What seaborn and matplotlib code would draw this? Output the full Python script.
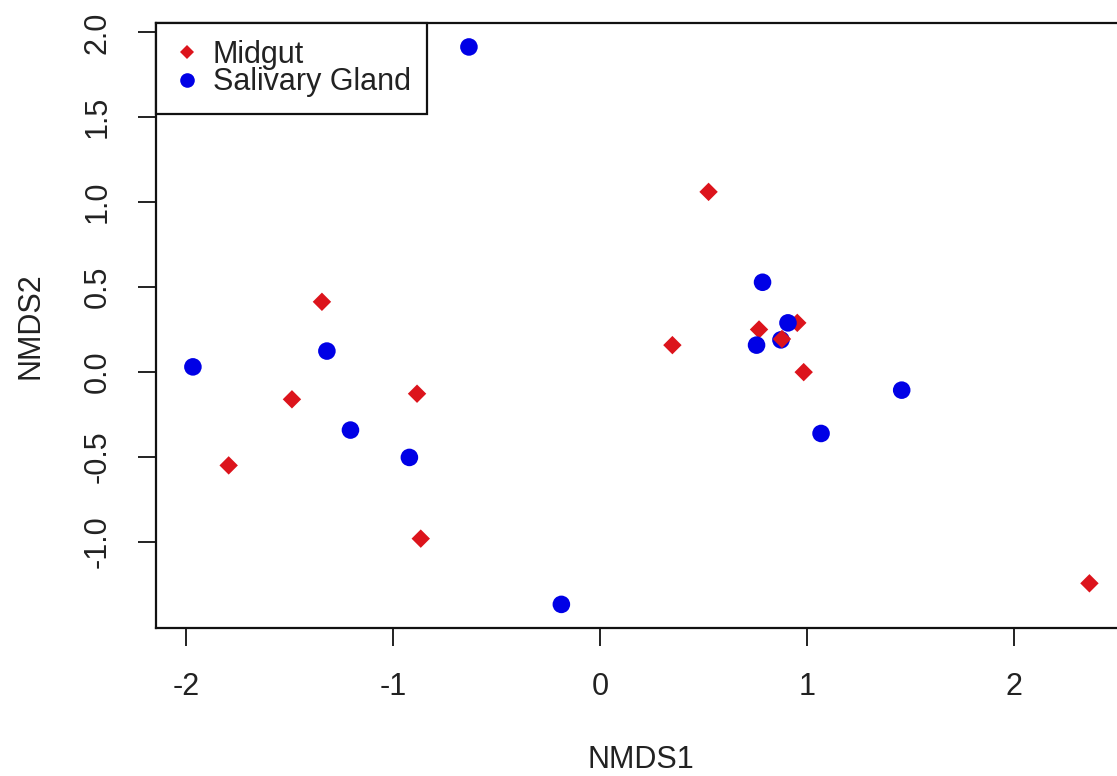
import pandas as pd
import matplotlib
matplotlib.use("Agg")
import matplotlib.pyplot as plt
import seaborn as sns
from matplotlib.lines import Line2D

# NMDS scores
midgut_x = [-1.345, -1.49, -0.885, -1.796, -0.867, 0.525, 0.35, 0.769, 0.954, 0.88, 0.985, 2.367]
midgut_y = [0.414, -0.16, -0.127, -0.549, -0.98, 1.061, 0.159, 0.251, 0.29, 0.195, 0.0, -1.243]
gland_x = [-0.634, -1.321, -1.969, -1.207, -0.922, -0.187, 0.786, 0.875, 0.909, 0.757, 1.459, 1.069]
gland_y = [1.914, 0.124, 0.031, -0.341, -0.502, -1.367, 0.529, 0.19, 0.29, 0.159, -0.106, -0.361]

groups = ["Midgut", "Salivary Gland"]
colors = {"Midgut": "#dc141c", "Salivary Gland": "#0000e6"}
x_ticks = [-2, -1, 0, 1, 2]
y_ticks = [-1.0, -0.5, 0.0, 0.5, 1.0, 1.5, 2.0]

# drawing order matters where points overlap
mg = pd.DataFrame({"NMDS1": midgut_x, "NMDS2": midgut_y, "tissue": "Midgut"})
sg = pd.DataFrame({"NMDS1": gland_x, "NMDS2": gland_y, "tissue": "Salivary Gland"})
data = pd.concat([mg.iloc[:9], sg.iloc[:8], mg.iloc[9:], sg.iloc[8:]], ignore_index=True)

sns.set_theme(style="white")
plt.rcParams["font.family"] = ["Liberation Sans", "DejaVu Sans"]
plt.rcParams["text.color"] = "#222222"
plt.rcParams["axes.labelcolor"] = "#222222"
plt.rcParams["xtick.color"] = "#222222"
plt.rcParams["ytick.color"] = "#222222"

fig = plt.figure(figsize=(11.17, 7.76), dpi=100)
ax = fig.add_axes([156 / 1117, 148 / 776, 969 / 1117, 605 / 776])

sns.scatterplot(data=data, x="NMDS1", y="NMDS2", hue="tissue", style="tissue",
                size="tissue", sizes={"Midgut": 88, "Salivary Gland": 160},
                markers={"Midgut": "D", "Salivary Gland": "o"},
                palette=colors, edgecolor="none", linewidth=0, legend=False, ax=ax)

ax.set_xlim(-2.1475, 2.539)
ax.set_ylim(-1.506, 2.055)
ax.set_xticks(x_ticks)
ax.set_xticklabels([str(t) for t in x_ticks])
ax.set_yticks(y_ticks)
ax.set_yticklabels([f"{t:.1f}" for t in y_ticks], rotation=90, va="center")

for sp in ax.spines.values():
    sp.set_color("#111111")
    sp.set_linewidth(1.6)

ax.tick_params(axis="both", direction="out", length=13, width=1.4, labelsize=22,
               bottom=True, left=True)
ax.tick_params(axis="x", pad=19)
ax.tick_params(axis="y", pad=18)
ax.set_xlabel("NMDS1", fontsize=22, labelpad=31)
ax.set_ylabel("NMDS2", fontsize=22, labelpad=27)

handles = [
    Line2D([], [], linestyle="none", marker="D", markersize=7.2,
           markerfacecolor=colors["Midgut"], markeredgewidth=0, label="Midgut"),
    Line2D([], [], linestyle="none", marker="o", markersize=10.5,
           markerfacecolor=colors["Salivary Gland"], markeredgewidth=0, label="Salivary Gland"),
]
leg = ax.legend(handles=handles, loc="upper left", bbox_to_anchor=(0, 1),
                borderaxespad=0, fancybox=False, framealpha=1, edgecolor="#111111",
                fontsize=22, handlelength=0.9, handletextpad=0.4,
                borderpad=0.55, labelspacing=-0.085)
leg.get_frame().set_linewidth(1.6)

fig.savefig("out.png", dpi=100)
